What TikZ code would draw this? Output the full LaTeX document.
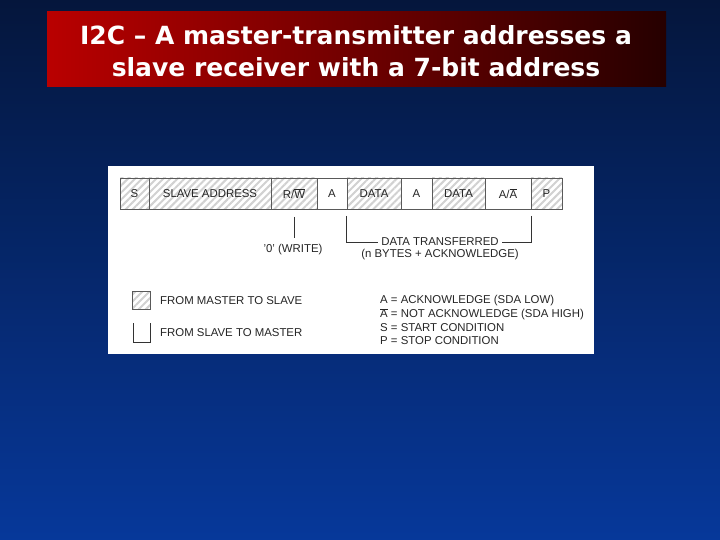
\documentclass[tikz,border=0pt]{standalone}
\usepackage{fontspec}
\setmainfont{Liberation Sans}
\newfontfamily\titlefont{DejaVu Sans}
\usetikzlibrary{patterns.meta}
\definecolor{bgtop}{RGB}{5,22,60}
\definecolor{bgbot}{RGB}{6,56,154}
\definecolor{tleft}{RGB}{185,0,0}
\definecolor{tright}{RGB}{38,0,0}
\newcommand{\ovlchar}[1]{\vbox{\hrule height 0.6pt\kern0.9pt\hbox{#1}}}
\begin{document}
\begin{tikzpicture}[x=1pt,y=-1pt,
  lbl/.style={font=\fontsize{11.4}{13}\selectfont, text=black!85, inner sep=0pt},
  cell/.style={draw=black!65, line width=0.6pt, anchor=north west, minimum height=31pt, inner sep=0pt, outer sep=0pt, font=\fontsize{11.4}{13}\selectfont, text=black!85},
  hatch/.style={pattern={Lines[angle=45,distance=5pt,line width=2pt]}, pattern color=black!18},
  hcell/.style={cell, hatch},
  wcell/.style={cell, fill=white},
  ttl/.style={font=\titlefont\bfseries\fontsize{25}{32}\selectfont, text=white, align=center}]
\useasboundingbox (0,0) rectangle (720,540);
\shade[top color=bgtop, bottom color=bgbot] (0,0) rectangle (720,540);
% title
\shade[left color=tleft, right color=tright] (47,12) rectangle (666,87);
\node[ttl] (title) at (356,51) {I2C – A master-transmitter addresses a\\slave receiver with a 7-bit address};
% panel
\fill[white] (108,166) rectangle (594,354);
% frame cells
\node[hcell, minimum width=29pt] (s) at (120,178) {S};
\node[hcell, minimum width=122pt] (sa) at (149,178) {SLAVE ADDRESS};
\node[hcell, minimum width=46pt] (rw) at (271,178) {R/\ovlchar{W}};
\node[wcell, minimum width=30pt] (a1) at (317,178) {A};
\node[hcell, minimum width=54pt] (d1) at (347,178) {DATA};
\node[wcell, minimum width=31pt] (a2) at (401,178) {A};
\node[hcell, minimum width=53pt] (d2) at (432,178) {DATA};
\node[wcell, minimum width=46pt] (a3) at (485,178) {A/\ovlchar{A}};
\node[hcell, minimum width=31pt] (p) at (531,178) {P};
% write annotation
\coordinate (rwt) at (294,217);
\coordinate (rwb) at (294,238);
\draw[black!80, line width=0.6pt] (rwt) -- (rwb);
\node[lbl] (wr) at (293,249.5) {'0' (WRITE)};
% data transferred bracket
\coordinate (bl) at (346,216);
\coordinate (br) at (531,216);
\node[lbl, inner xsep=3pt] (dt) at (440,242) {DATA TRANSFERRED};
\draw[black!80, line width=0.6pt] (bl) |- (dt.west);
\draw[black!80, line width=0.6pt] (br) |- (dt.east);
\node[lbl] (nb) at (440,254.5) {(n BYTES + ACKNOWLEDGE)};
% legend
\node[draw=black!65, line width=0.6pt, hatch, minimum width=18pt, minimum height=18pt, inner sep=0pt, anchor=north west] (lm) at (132,291) {};
\node[lbl, anchor=west] (lmt) at (160,300.5) {FROM MASTER TO SLAVE};
\coordinate (ls1) at (133,323);
\coordinate (ls2) at (133,342);
\coordinate (ls3) at (150,342);
\coordinate (ls4) at (150,323);
\draw[black!80, line width=0.6pt] (ls1) -- (ls2) -- (ls3) -- (ls4);
\node[lbl, anchor=west] (lst) at (160,332.5) {FROM SLAVE TO MASTER};
\node[lbl, anchor=west] (k1) at (380,300.5) {A = ACKNOWLEDGE (SDA LOW)};
\node[lbl, anchor=west] (k2) at (380,314.5) {\ovlchar{A} = NOT ACKNOWLEDGE (SDA HIGH)};
\node[lbl, anchor=west] (k3) at (380,327.5) {S = START CONDITION};
\node[lbl, anchor=west] (k4) at (380,340.5) {P = STOP CONDITION};
\end{tikzpicture}
\end{document}
